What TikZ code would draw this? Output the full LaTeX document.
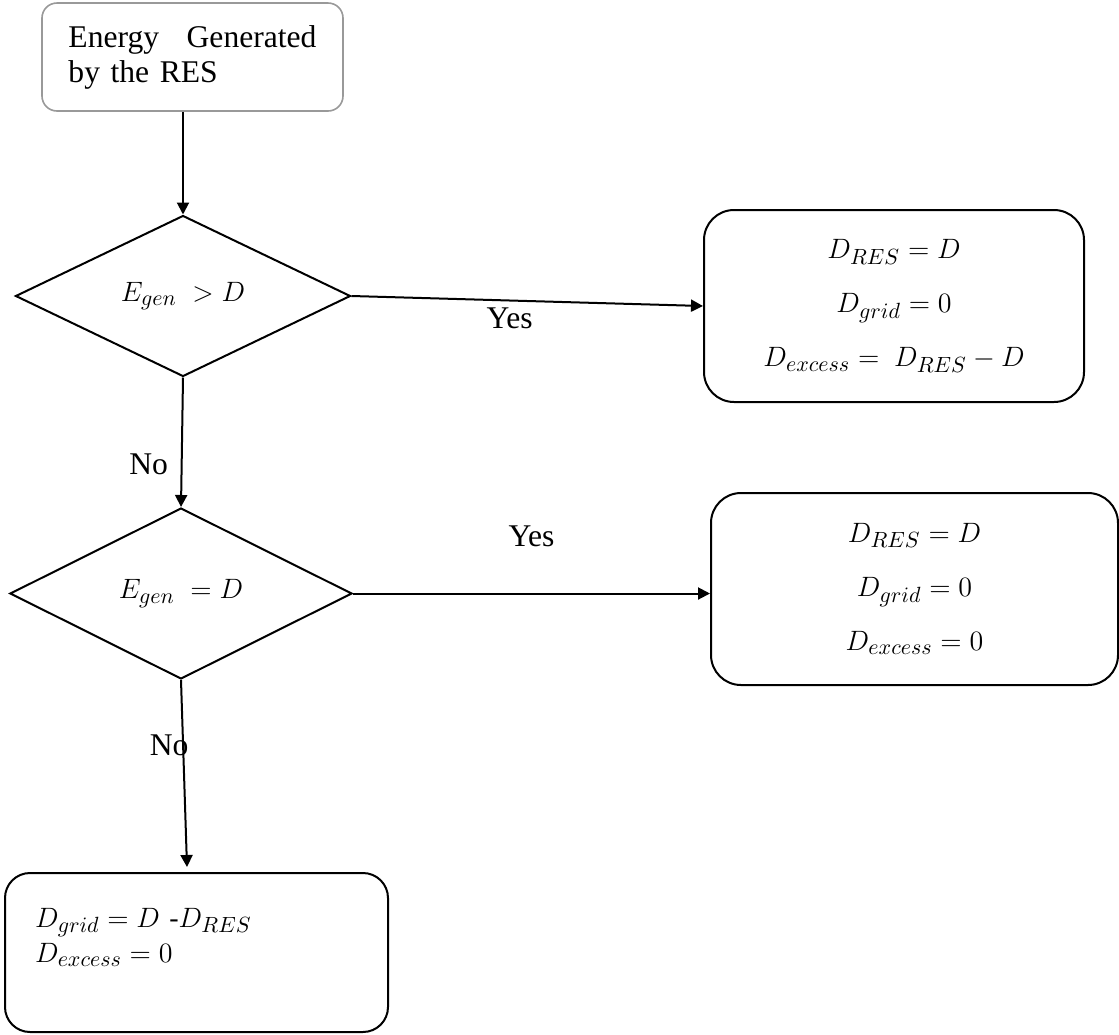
\RequirePackage{fix-cm}
\documentclass[tikz,border=0pt]{standalone}
\usepackage{fontspec}
\setmainfont{Liberation Serif}
\usetikzlibrary{shapes.geometric, arrows.meta}

\DeclareMathSizes{14}{14}{11}{8.5}
\newcommand{\txtsize}{\fontsize{15.8}{17.5}\selectfont}
\newcommand{\eqsize}{\fontsize{14}{27}\selectfont}
\newcommand{\eqsizetight}{\fontsize{14}{17.5}\selectfont}

\tikzset{
	startbox/.style={draw=black!40, line width=0.8pt, rectangle, rounded corners=7.5pt,
		align=left, text width=124pt, inner xsep=13.25pt, minimum width=150.5pt,
		minimum height=54pt, font=\txtsize},
	decision/.style={draw, diamond, line width=1pt, inner sep=0pt, font=\eqsize},
	resultbox/.style={draw, rectangle, line width=1pt, rounded corners=15pt,
		align=center, minimum height=96pt, font=\eqsize},
	lbl/.style={font=\txtsize}
}

\begin{document}
\begin{tikzpicture}[x=0.5pt, y=-0.5pt, >={Triangle[length=6pt,width=6pt]}, line width=1pt]
	\useasboundingbox (0,0) rectangle (1119,1034);
	\node[startbox] (start) at (192.5,57) {Energy\hfill Generated\\by the RES};
	\node[decision, minimum width=167.5pt, minimum height=80.5pt] (gt) at (183,296)
		{$E_{gen}\; > D$};
	\node[decision, minimum width=171pt, minimum height=85.5pt] (eq) at (181,593.5)
		{$E_{gen}\; = D$};
	\node[resultbox, minimum width=190pt] (res1) at (894,306)
		{$D_{RES} = D$\\$D_{grid} = 0$\\$D_{excess} =\ D_{RES} - D$};
	\node[resultbox, minimum width=203.5pt] (res2) at (914.5,589)
		{$D_{RES} = D$\\$D_{grid} = 0$\\$D_{excess} = 0$};
	\node[resultbox, rounded corners=12.5pt, align=left, text width=161.5pt, font=\eqsizetight,
		inner xsep=15pt, minimum width=191.5pt, minimum height=79.5pt] (res3) at (196.5,952.5)
		{$D_{grid} = D$ -$D_{RES}$\\$D_{excess} = 0$\\\mbox{}};
	\coordinate (t3) at (187,867);

	\draw[->] (gt.north |- start.south) -- (gt.north);
	\draw[->] (gt.east) -- node[lbl, below, pos=0.45] {Yes} (res1.west);
	\draw[->] (gt.south) -- node[lbl, left=3pt, pos=0.67] {No} (eq.north);
	\draw[->] (eq.east) -- node[lbl, above=19.5pt, pos=0.5] {Yes} (eq.east -| res2.west);
	\draw[->] (eq.south) -- node[lbl, pos=0.35, xshift=-7pt] {No} (t3);
\end{tikzpicture}
\end{document}
